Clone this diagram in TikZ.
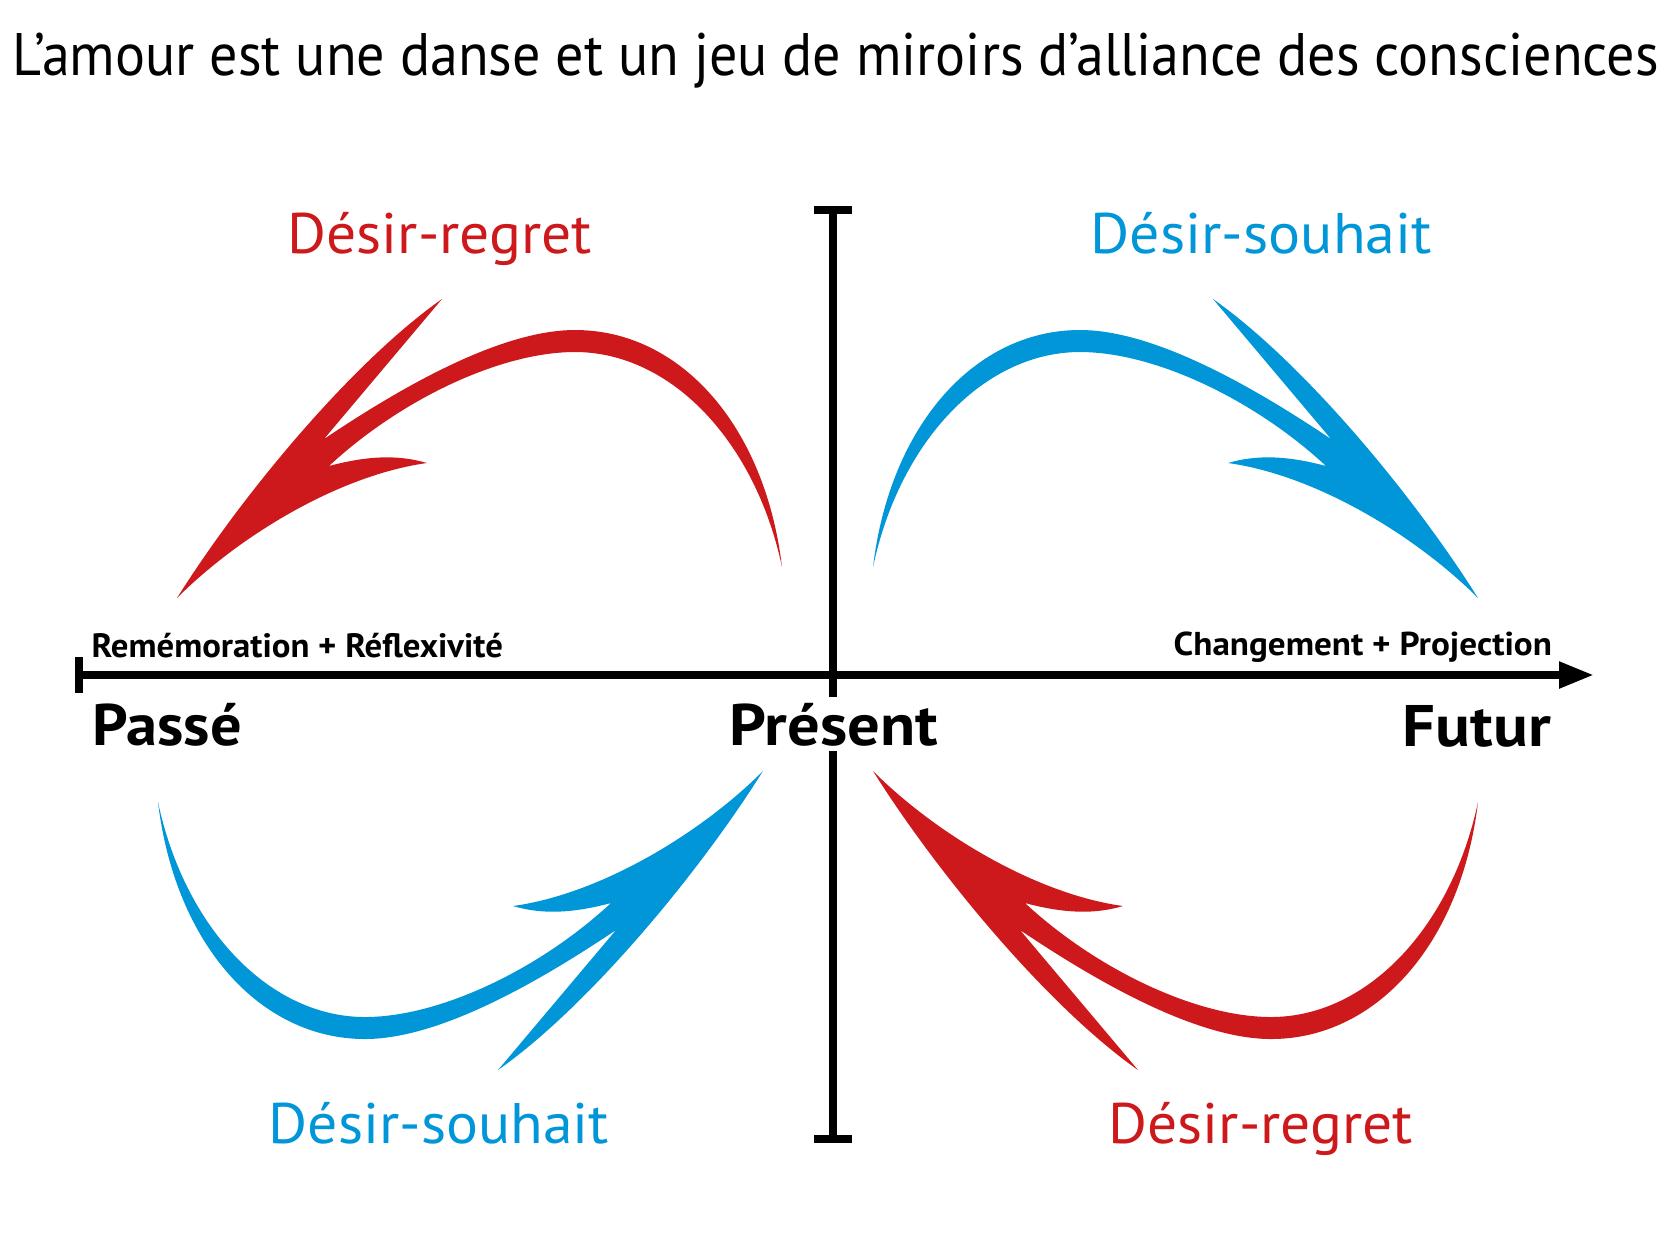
\documentclass[tikz,border=0pt]{standalone}
\usepackage{fontspec}
\setmainfont{PT Sans}
\usepackage{graphicx}
\usetikzlibrary{arrows.meta}
\definecolor{dred}{RGB}{205,25,27}
\definecolor{dblue}{RGB}{0,150,216}
\newcommand{\swooshpath}[1]{%
  \fill[#1] (177,598) .. controls (245,490) and (355,360) .. (442,299)
    -- (324,439) .. controls (400,388) and (500,330) .. (575,330)
    .. controls (680,330) and (765,425) .. (782,567)
    .. controls (755,440) and (670,352) .. (575,352)
    .. controls (500,352) and (400,400) .. (329,466)
    .. controls (370,455) and (400,455) .. (427,463)
    .. controls (340,475) and (240,535) .. cycle;}
\newcommand{\fitw}[3]{\resizebox{#1}{\height}{\fontsize{#2}{#2}\selectfont #3}}
\begin{document}
\begin{tikzpicture}[x=0.01cm,y=-0.01cm,
  lbl/.style={anchor=base west, inner sep=0pt},
  axisline/.style={line width=0.08cm, black},
  desir/.style={lbl},
  timelbl/.style={lbl, font=\bfseries},
]
\useasboundingbox[fill=white] (0,0) rectangle (1667,1250);

% title
\node[lbl] (title) at (12,75) {\fitw{16.45cm}{17.07pt}{L’amour est une danse et un jeu de miroirs d’alliance des consciences}};

% axes
\coordinate (xl) at (79,675);
\coordinate (xr) at (1594,675);
\coordinate (yt) at (833,210);
\coordinate (yb) at (833,1139);
\coordinate (xlt) at (79,657);
\coordinate (xlb) at (79,693);
\coordinate (ytl) at (814,210);
\coordinate (ytr) at (852,210);
\coordinate (ybl) at (814,1139);
\coordinate (ybr) at (852,1139);
\draw[axisline, -{Triangle[length=0.35cm,width=0.25cm]}] (xl) -- (xr);
\draw[axisline] (xlt) -- (xlb);
\draw[axisline] (yt) -- (yb);
\draw[axisline] (ytl) -- (ytr);
\draw[axisline] (ybl) -- (ybr);

% swooshes
\swooshpath{dred}
\begin{scope}[shift={(1655,0)}, xscale=-1]
  \swooshpath{dblue}
\end{scope}
\begin{scope}[shift={(940,1369)}, scale=-1]
  \swooshpath{dblue}
\end{scope}
\begin{scope}[shift={(696,1369)}, yscale=-1]
  \swooshpath{dred}
\end{scope}

% labels
\node[desir, text=dred] (dr1) at (287,253) {\fitw{3.04cm}{16.26pt}{Désir-regret}};
\node[desir, text=dblue] (ds1) at (1090,253) {\fitw{3.41cm}{16.26pt}{Désir-souhait}};
\node[desir, text=dblue] (ds2) at (268,1143) {\fitw{3.40cm}{16.26pt}{Désir-souhait}};
\node[desir, text=dred] (dr2) at (1108,1143) {\fitw{3.04cm}{16.26pt}{Désir-regret}};

\node[timelbl] (rem) at (91,657) {\fitw{4.11cm}{9.6pt}{\bfseries Remémoration + Réflexivité}};
\node[timelbl] (chg) at (1173,655) {\fitw{3.78cm}{9.4pt}{\bfseries Changement + Projection}};

\node[timelbl] (passe) at (92,745) {\fitw{1.49cm}{16.67pt}{\bfseries Passé}};
\node[timelbl, fill=white, inner ysep=1.6pt] (present) at (729,745) {\fitw{2.08cm}{16.67pt}{\bfseries Présent}};
\node[timelbl] (futur) at (1402,746) {\fitw{1.48cm}{16.67pt}{\bfseries Futur}};
\end{tikzpicture}
\end{document}
